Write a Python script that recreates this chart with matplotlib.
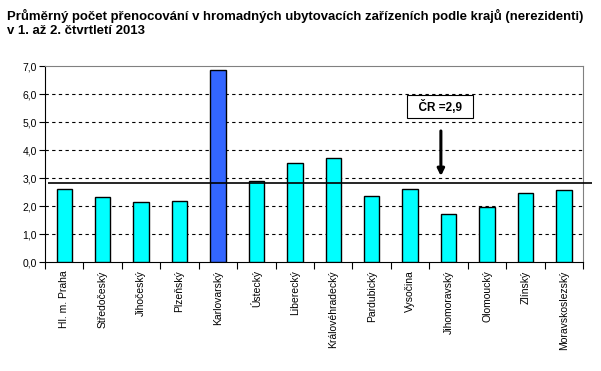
import numpy as np
import matplotlib.pyplot as plt
from matplotlib.ticker import FuncFormatter

plt.rcParams['font.family'] = ['Liberation Sans', 'DejaVu Sans']

kraje = ['Hl. m. Praha', 'Středočeský', 'Jihočeský', 'Plzeňský', 'Karlovarský',
         'Ústecký', 'Liberecký', 'Královéhradecký', 'Pardubický', 'Vysočina',
         'Jihomoravský', 'Olomoucký', 'Zlínský', 'Moravskoslezský']
hodnoty = [2.60, 2.32, 2.13, 2.17, 6.85, 2.88, 3.52, 3.70, 2.36, 2.60,
           1.71, 1.96, 2.45, 2.56]
cr_hodnota = 2.82
cr_popis = 'ČR =2,9'

barvy = ['#00FFFF'] * len(kraje)
barvy[kraje.index('Karlovarský')] = '#3366FF'

fig = plt.figure(figsize=(6.01, 3.71), dpi=100)
ax = fig.add_axes([0.0749, 0.2938, 0.8953, 0.5282])

x = np.arange(len(kraje))
ax.bar(x, hodnoty, width=0.4, color=barvy, edgecolor='black', linewidth=1, zorder=3)

ax.set_xlim(-0.5, len(kraje) - 0.5)
ax.set_ylim(0, 7)
ax.set_yticks(np.arange(0, 7.1, 1))
ax.yaxis.set_major_formatter(FuncFormatter(lambda v, p: f'{v:.1f}'.replace('.', ',')))
for yy in range(1, 7):
    ax.axhline(yy, color='black', linestyle=(0, (3, 3)), linewidth=0.8, zorder=1)

# hranice kategorii jako ticky
ax.set_xticks(np.arange(-0.5, len(kraje), 1))
ax.set_xticklabels([])
ax.set_xticks(x, minor=True)
ax.set_xticklabels(kraje, minor=True, rotation=90, fontsize=7.5)
ax.tick_params(axis='x', which='minor', length=0, pad=6)
ax.tick_params(axis='x', which='major', length=5, direction='out', color='black')
ax.tick_params(axis='y', length=4, direction='out', labelsize=7.5, pad=2)

for s in ['top', 'right']:
    ax.spines[s].set_color('#808080')
ax.spines['left'].set_color('black')
ax.spines['bottom'].set_color('black')

# prumer CR - cara presahuje pravy okraj grafu
ax.plot([0.0056, 1.0167], [cr_hodnota, cr_hodnota], color='black', linewidth=1.2,
        zorder=4, clip_on=False, solid_capstyle='butt',
        transform=ax.get_yaxis_transform())
ax.annotate('', xy=(9.8, cr_hodnota + 0.15), xytext=(9.8, 4.78),
            arrowprops=dict(arrowstyle='-|>', color='black', lw=2.2, mutation_scale=10))
ax.text(9.78, 5.54, '  ' + cr_popis + '  ', ha='center', va='center', fontsize=8.5,
        fontweight='bold',
        bbox=dict(boxstyle='square,pad=0.38', facecolor='white', edgecolor='black', linewidth=0.8),
        zorder=5)

fig.text(0.012, 0.975, 'Průměrný počet přenocování v hromadných ubytovacích zařízeních podle krajů (nerezidenti)\nv 1. až 2. čtvrtletí 2013',
         ha='left', va='top', fontsize=9.45, fontweight='bold', linespacing=1.2)

fig.savefig('out.png', dpi=100)
